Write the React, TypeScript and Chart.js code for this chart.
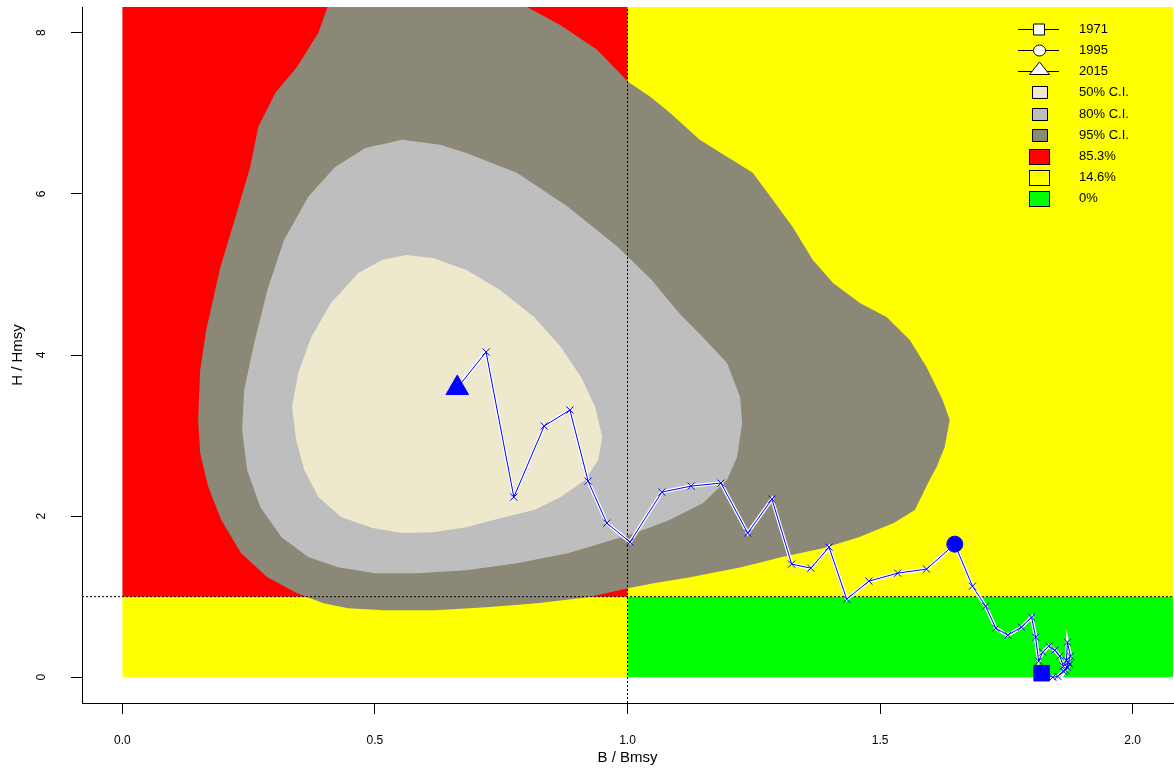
import React, { useEffect, useRef } from 'react';
import { Chart, registerables } from 'chart.js';

Chart.register(...registerables);
Chart.defaults.font.family = '"Liberation Sans", Arial, Helvetica, sans-serif';
Chart.defaults.color = '#000';

// ---- axis ranges (R style 4% extension of 0..2 and 0..8) ----
const X_MIN = -0.08;
const X_MAX = 2.08;
const Y_MIN = -0.32;
const Y_MAX = 8.32;

const xTickValues = [0, 0.5, 1, 1.5, 2];
const xTickLabels = ['0.0', '0.5', '1.0', '1.5', '2.0'];
const yTickValues = [0, 2, 4, 6, 8];
const yTickLabels = ['0', '2', '4', '6', '8'];

// ---- trajectory ----
const years = [
  1971, 1972, 1973, 1974, 1975, 1976, 1977, 1978, 1979, 1980,
  1981, 1982, 1983, 1984, 1985, 1986, 1987, 1988, 1989, 1990,
  1991, 1992, 1993, 1994, 1995, 1996, 1997, 1998, 1999, 2000,
  2001, 2002, 2003, 2004, 2005, 2006, 2007, 2008, 2009, 2010,
  2011, 2012, 2013, 2014, 2015,
];
const bRatio = [
  1.820, 1.842, 1.852, 1.863, 1.871, 1.875, 1.867, 1.873, 1.877, 1.871,
  1.869, 1.863, 1.856, 1.846, 1.834, 1.822, 1.814, 1.808, 1.800, 1.780,
  1.753, 1.729, 1.709, 1.683, 1.648, 1.592, 1.535, 1.478, 1.434, 1.399,
  1.363, 1.325, 1.286, 1.238, 1.185, 1.126, 1.068, 1.005, 0.959, 0.922,
  0.886, 0.835, 0.775, 0.720, 0.663,
];
const hRatio = [
  0.05, 0.00, 0.01, 0.075, 0.124, 0.161, 0.087, 0.186, 0.261, 0.435,
  0.211, 0.137, 0.261, 0.335, 0.385, 0.311, 0.199, 0.497, 0.745, 0.621,
  0.522, 0.609, 0.882, 1.130, 1.652, 1.342, 1.292, 1.193, 0.969, 1.615,
  1.354, 1.404, 2.211, 1.789, 2.410, 2.373, 2.298, 1.677, 1.913, 2.435,
  3.317, 3.118, 2.236, 4.037, 3.590,
];
const markedYears = [1971, 1995, 2015];

// ---- confidence regions (outline, starting at the leftmost point) ----
const ci95: number[][] = [
  [0.150, 3.193], [0.154, 3.814], [0.166, 4.311], [0.194, 5.093], [0.224, 5.714],
  [0.253, 6.335], [0.269, 6.832], [0.303, 7.255], [0.346, 7.578], [0.388, 8.000],
  [0.406, 8.32], [0.801, 8.32], [0.866, 8.099], [0.940, 7.789], [1.001, 7.391],
  [1.045, 7.205], [1.084, 7.006], [1.143, 6.671], [1.197, 6.460], [1.248, 6.261],
  [1.288, 5.925], [1.327, 5.590], [1.367, 5.180], [1.407, 4.894], [1.460, 4.646],
  [1.513, 4.472], [1.559, 4.186], [1.592, 3.851], [1.624, 3.441], [1.638, 3.193],
  [1.628, 2.857], [1.612, 2.609], [1.598, 2.447], [1.569, 2.075], [1.527, 1.913],
  [1.458, 1.739], [1.387, 1.602], [1.306, 1.491], [1.225, 1.366], [1.124, 1.242],
  [1.052, 1.168], [1.001, 1.106], [0.922, 0.994], [0.821, 0.919], [0.720, 0.870],
  [0.619, 0.832], [0.518, 0.832], [0.447, 0.857], [0.398, 0.919], [0.346, 1.043],
  [0.287, 1.242], [0.235, 1.540], [0.196, 1.950], [0.170, 2.360], [0.154, 2.783],
];
const ci80: number[][] = [
  [0.237, 3.068], [0.241, 3.565], [0.261, 4.149], [0.287, 4.807], [0.320, 5.429],
  [0.368, 5.963], [0.421, 6.335], [0.481, 6.571], [0.554, 6.671], [0.629, 6.609],
  [0.681, 6.509], [0.781, 6.261], [0.882, 5.839], [0.981, 5.342], [1.048, 4.932],
  [1.102, 4.522], [1.149, 4.224], [1.197, 3.901], [1.223, 3.478], [1.227, 3.155],
  [1.217, 2.733], [1.197, 2.447], [1.149, 2.161], [1.082, 1.950], [1.015, 1.789],
  [0.950, 1.665], [0.882, 1.540], [0.781, 1.416], [0.681, 1.329], [0.582, 1.292],
  [0.500, 1.292], [0.427, 1.366], [0.368, 1.491], [0.315, 1.739], [0.273, 2.112],
  [0.247, 2.571],
];
const ci50: number[][] = [
  [0.336, 3.354], [0.348, 3.776], [0.374, 4.224], [0.413, 4.646], [0.467, 5.019],
  [0.514, 5.180], [0.562, 5.242], [0.615, 5.205], [0.681, 5.056], [0.748, 4.807],
  [0.815, 4.472], [0.868, 4.099], [0.908, 3.727], [0.936, 3.354], [0.950, 2.981],
  [0.942, 2.696], [0.916, 2.447], [0.868, 2.236], [0.815, 2.075], [0.748, 1.975],
  [0.681, 1.863], [0.615, 1.801], [0.554, 1.789], [0.495, 1.851], [0.433, 1.988],
  [0.388, 2.236], [0.360, 2.571], [0.344, 2.944],
];

// ---- kobe quadrants ----
const refB = 1;
const refH = 1;
const zoneRed: number[][] = [[0, refH], [0, Y_MAX], [refB, Y_MAX], [refB, refH]];
const zoneYellowTop: number[][] = [[refB, refH], [refB, Y_MAX], [X_MAX, Y_MAX], [X_MAX, refH]];
const zoneYellowBottom: number[][] = [[0, 0], [0, refH], [refB, refH], [refB, 0]];
const zoneGreen: number[][] = [[refB, 0], [refB, refH], [X_MAX, refH], [X_MAX, 0]];

// ---- legend ----
const ciLabels = ['50% C.I.', '80% C.I.', '95% C.I.'];
const zoneLabels = ['85.3%', '14.6%', '0%'];

const COL = {
  red: '#FF0000',
  yellow: '#FFFF00',
  green: '#00FF00',
  ci95: '#8B8878',
  ci80: '#BEBEBE',
  ci50: '#EEE8CD',
  traj: '#0000FF',
};

// closed outline; ends with a zero-area chord first -> rightmost so the
// filler's x-bounds span the whole shape
function polyPoints(poly: number[][]) {
  let ri = 0;
  poly.forEach((p, i) => {
    if (p[0] > poly[ri][0]) ri = i;
  });
  const pts = poly.map(([x, y]) => ({ x, y }));
  pts.push({ x: poly[0][0], y: poly[0][1] });
  pts.push({ x: poly[ri][0], y: poly[ri][1] });
  return pts;
}

function polyDataset(poly: number[][], color: string, order: number) {
  return {
    data: polyPoints(poly),
    showLine: true,
    fill: 'shape',
    backgroundColor: color,
    borderColor: 'rgba(0,0,0,0)',
    borderWidth: 0,
    pointRadius: 0,
    pointHoverRadius: 0,
    tension: 0,
    order,
  };
}

const legendPlugin = {
  id: 'kobeLegend',
  afterDatasetsDraw(chart: any) {
    const { ctx, chartArea } = chart;
    const symX = chartArea.right - 134;
    const textX = chartArea.right - 94;
    const top = chartArea.top + 22.3;
    const step = 21.05;
    const items: { label: string; kind: string; color?: string; shape?: string }[] = [
      { label: String(markedYears[0]), kind: 'marker', shape: 'square' },
      { label: String(markedYears[1]), kind: 'marker', shape: 'circle' },
      { label: String(markedYears[2]), kind: 'marker', shape: 'triangle' },
      { label: ciLabels[0], kind: 'ci', color: COL.ci50 },
      { label: ciLabels[1], kind: 'ci', color: COL.ci80 },
      { label: ciLabels[2], kind: 'ci', color: COL.ci95 },
      { label: zoneLabels[0], kind: 'zone', color: COL.red },
      { label: zoneLabels[1], kind: 'zone', color: COL.yellow },
      { label: zoneLabels[2], kind: 'zone', color: COL.green },
    ];
    ctx.save();
    ctx.font = '13px "Liberation Sans", Arial, sans-serif';
    ctx.textBaseline = 'middle';
    ctx.textAlign = 'left';
    items.forEach((item, i) => {
      const y = Math.round(top + i * step);
      ctx.strokeStyle = '#000';
      ctx.lineWidth = 1;
      if (item.kind === 'marker') {
        ctx.beginPath();
        ctx.moveTo(symX - 21, y + 0.5);
        ctx.lineTo(symX + 20, y + 0.5);
        ctx.stroke();
        ctx.fillStyle = '#fff';
        ctx.beginPath();
        if (item.shape === 'square') {
          ctx.rect(symX - 5.5, y - 5, 11, 11);
        } else if (item.shape === 'circle') {
          ctx.ellipse(symX + 0.5, y + 0.5, 6, 5.5, 0, 0, Math.PI * 2);
        } else {
          ctx.moveTo(symX + 0.5, y - 9);
          ctx.lineTo(symX + 10.5, y + 3.5);
          ctx.lineTo(symX - 9.5, y + 3.5);
          ctx.closePath();
        }
        ctx.fill();
        ctx.stroke();
      } else {
        const w = item.kind === 'ci' ? 15 : 20;
        const h = item.kind === 'ci' ? 12 : 15;
        ctx.fillStyle = item.color;
        ctx.fillRect(Math.round(symX - w / 2) + 0.5, Math.round(y - h / 2) + 0.5, w, h);
        ctx.strokeRect(Math.round(symX - w / 2) + 0.5, Math.round(y - h / 2) + 0.5, w, h);
      }
      ctx.fillStyle = '#000';
      ctx.fillText(item.label, textX, y + 0.5);
    });
    ctx.restore();
  },
};

function pickLabel(values: number[], labels: string[], v: number) {
  const i = values.findIndex((t) => Math.abs(t - v) < 1e-9);
  return i >= 0 ? labels[i] : '';
}

export default function App() {
  const canvasRef = useRef<HTMLCanvasElement | null>(null);

  useEffect(() => {
    document.body.style.margin = '0';
    const canvas = canvasRef.current;
    if (!canvas) return;

    const traj = bRatio.map((b, i) => ({ x: b, y: hRatio[i] }));
    const idx = markedYears.map((yr) => years.indexOf(yr));
    const markerPt = (k: number) => [{ x: bRatio[idx[k]], y: hRatio[idx[k]] }];

    const chart = new Chart(canvas, {
      type: 'scatter',
      data: {
        datasets: [
          polyDataset(zoneRed, COL.red, 30),
          polyDataset(zoneYellowTop, COL.yellow, 30),
          polyDataset(zoneYellowBottom, COL.yellow, 30),
          polyDataset(zoneGreen, COL.green, 30),
          polyDataset(ci95, COL.ci95, 29),
          polyDataset(ci80, COL.ci80, 28),
          polyDataset(ci50, COL.ci50, 27),
          {
            data: [{ x: refB, y: Y_MIN }, { x: refB, y: Y_MAX }],
            showLine: true,
            borderColor: '#000',
            borderWidth: 1,
            borderDash: [2, 2],
            pointRadius: 0,
            clip: 0,
            order: 26,
          },
          {
            data: [{ x: X_MIN, y: refH }, { x: X_MAX, y: refH }],
            showLine: true,
            borderColor: '#000',
            borderWidth: 1,
            borderDash: [2, 2],
            pointRadius: 0,
            clip: 0,
            order: 26,
          },
          {
            data: traj,
            showLine: true,
            borderColor: '#FFFFFF',
            borderWidth: 3.5,
            pointRadius: 0,
            tension: 0,
            order: 25,
          },
          {
            data: traj,
            showLine: true,
            borderColor: COL.traj,
            borderWidth: 1,
            pointStyle: 'crossRot',
            pointRadius: 5,
            pointBorderColor: COL.traj,
            pointBorderWidth: 1,
            tension: 0,
            order: 24,
          },
          {
            data: markerPt(0),
            pointStyle: 'rect',
            pointRadius: 11,
            backgroundColor: COL.traj,
            borderColor: COL.traj,
            borderWidth: 1,
            order: 23,
          },
          {
            data: markerPt(1),
            pointStyle: 'circle',
            pointRadius: 8,
            backgroundColor: COL.traj,
            borderColor: COL.traj,
            borderWidth: 1,
            order: 23,
          },
          {
            data: markerPt(2),
            pointStyle: 'triangle',
            pointRadius: 13,
            backgroundColor: COL.traj,
            borderColor: COL.traj,
            borderWidth: 1,
            order: 23,
          },
        ] as any,
      },
      options: {
        animation: false,
        responsive: true,
        maintainAspectRatio: false,
        events: [],
        layout: { autoPadding: false, padding: { top: 7, right: 1, left: 0, bottom: 0 } },
        plugins: {
          legend: { display: false },
          tooltip: { enabled: false },
        },
        scales: {
          x: {
            type: 'linear',
            min: X_MIN,
            max: X_MAX,
            afterFit: (s: any) => {
              s.height = 69;
              s.paddingLeft = 0;
              s.paddingRight = 0;
              s.paddingTop = 0;
              s.paddingBottom = 0;
            },
            ticks: {
              stepSize: 0.5,
              includeBounds: false,
              autoSkip: false,
              maxRotation: 0,
              minRotation: 0,
              padding: 19,
              color: '#000',
              font: { size: 12 },
              callback: (v: any) => pickLabel(xTickValues, xTickLabels, Number(v)),
            },
            grid: {
              drawOnChartArea: false,
              drawTicks: true,
              tickLength: 11,
              color: '#000',
              lineWidth: 1,
            },
            border: { display: true, color: '#000', width: 1 },
            title: {
              display: true,
              text: 'B / Bmsy',
              color: '#000',
              font: { size: 15 },
              padding: { top: 0, bottom: 5 },
            },
          },
          y: {
            type: 'linear',
            min: Y_MIN,
            max: Y_MAX,
            afterFit: (s: any) => {
              s.width = 82;
              s.paddingLeft = 0;
              s.paddingRight = 0;
              s.paddingTop = 0;
              s.paddingBottom = 0;
            },
            ticks: {
              stepSize: 2,
              includeBounds: false,
              autoSkip: false,
              minRotation: 90,
              maxRotation: 90,
              crossAlign: 'center',
              padding: 26,
              color: '#000',
              font: { size: 12 },
              callback: (v: any) => pickLabel(yTickValues, yTickLabels, Number(v)),
            },
            grid: {
              drawOnChartArea: false,
              drawTicks: true,
              tickLength: 11,
              color: '#000',
              lineWidth: 1,
            },
            border: { display: true, color: '#000', width: 1 },
            title: {
              display: true,
              text: 'H / Hmsy',
              color: '#000',
              font: { size: 15 },
              padding: { top: 9, bottom: 0 },
            },
          },
        },
      } as any,
      plugins: [legendPlugin],
    });

    return () => {
      chart.destroy();
    };
  }, []);

  return (
    <div style={{ position: 'relative', width: 1174, height: 772 }}>
      <canvas ref={canvasRef} />
    </div>
  );
}
